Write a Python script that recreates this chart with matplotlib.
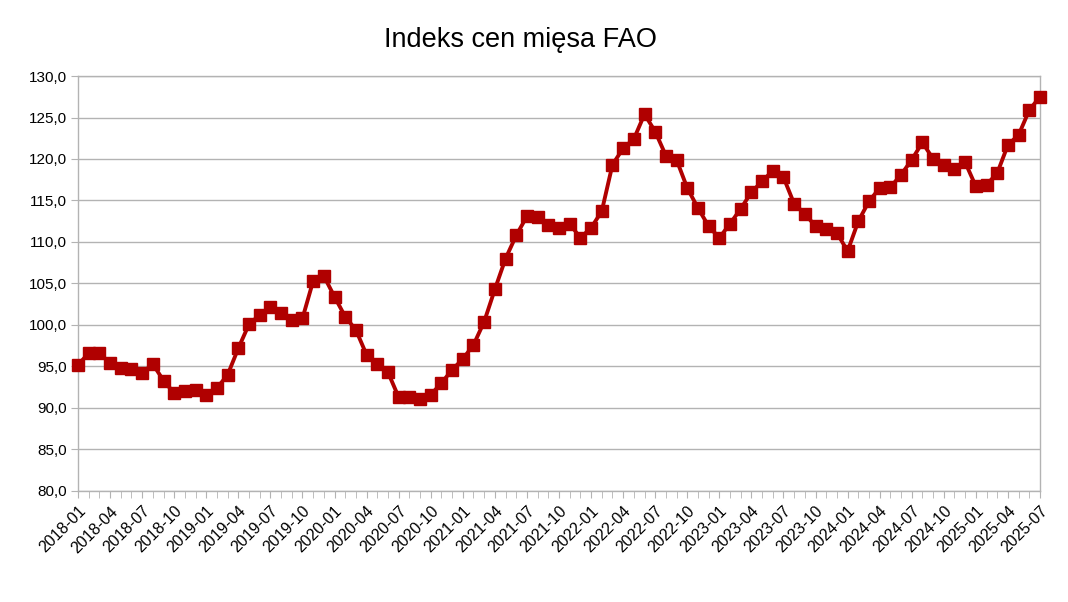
import matplotlib
matplotlib.use("Agg")
import matplotlib.pyplot as plt
from matplotlib.ticker import FixedLocator, FuncFormatter

months = [f"{y}-{m:02d}" for y in range(2018, 2026) for m in range(1, 13)][:91]

values = [95.2, 96.6, 96.6, 95.4, 94.8, 94.7, 94.2, 95.3, 93.3, 91.8, 92.0, 92.2,
          91.6, 92.4, 94.0, 97.2, 100.1, 101.2, 102.2, 101.4, 100.6, 100.8, 105.3, 105.9,
          103.4, 101.0, 99.4, 96.4, 95.3, 94.3, 91.3, 91.3, 91.1, 91.6, 93.0, 94.6,
          95.9, 97.6, 100.4, 104.3, 108.0, 110.8, 113.1, 113.0, 112.0, 111.7, 112.2, 110.5,
          111.7, 113.7, 119.3, 121.3, 122.4, 125.4, 123.3, 120.4, 119.9, 116.5, 114.1, 111.9,
          110.5, 112.2, 114.0, 116.0, 117.3, 118.6, 117.8, 114.6, 113.4, 111.9, 111.6, 111.1,
          108.9, 112.5, 114.9, 116.5, 116.6, 118.1, 119.9, 122.0, 120.0, 119.3, 118.8, 119.6,
          116.7, 116.9, 118.3, 121.7, 122.9, 125.9, 127.5]

title = "Indeks cen mięsa FAO"
y_ticks = [80, 85, 90, 95, 100, 105, 110, 115, 120, 125, 130]

plt.rcParams['font.family'] = ['Liberation Sans', 'DejaVu Sans']

fig = plt.figure(figsize=(10.68, 6.02), dpi=100)
ax = fig.add_axes([78/1068, 1-491/602, (1040-78)/1068, (491-76)/602])

x = list(range(len(values)))
ax.plot(x, values, color='#b00000', linewidth=2.8, marker='s', markersize=8.3,
        markerfacecolor='#b00000', markeredgecolor='#b00000', zorder=3, clip_on=False)

ax.set_xlim(0, len(values)-1)
ax.set_ylim(80, 130)
ax.set_yticks(y_ticks)
ax.yaxis.set_major_formatter(FuncFormatter(lambda v, p: f"{v:.1f}".replace('.', ',')))
ax.grid(axis='y', color='#b3b3b3', linewidth=1)
ax.set_axisbelow(True)

major = list(range(0, len(values), 3))
ax.set_xticks(major)
ax.set_xticklabels([months[i] for i in major], rotation=45, ha='right', va='top',
                   rotation_mode='anchor', fontsize=11.5)
ax.xaxis.set_minor_locator(FixedLocator(x))
ax.tick_params(axis='x', which='both', length=5, color='#b3b3b3', direction='out', pad=4)
ax.tick_params(axis='y', length=5, color='#b3b3b3', labelsize=11, pad=3)

for s in ax.spines.values():
    s.set_color('#b3b3b3')
    s.set_linewidth(1)

fig.text(520/1068, 1-40/602, title, ha='center', va='center', fontsize=19.5)

fig.savefig('out.png', dpi=100)
